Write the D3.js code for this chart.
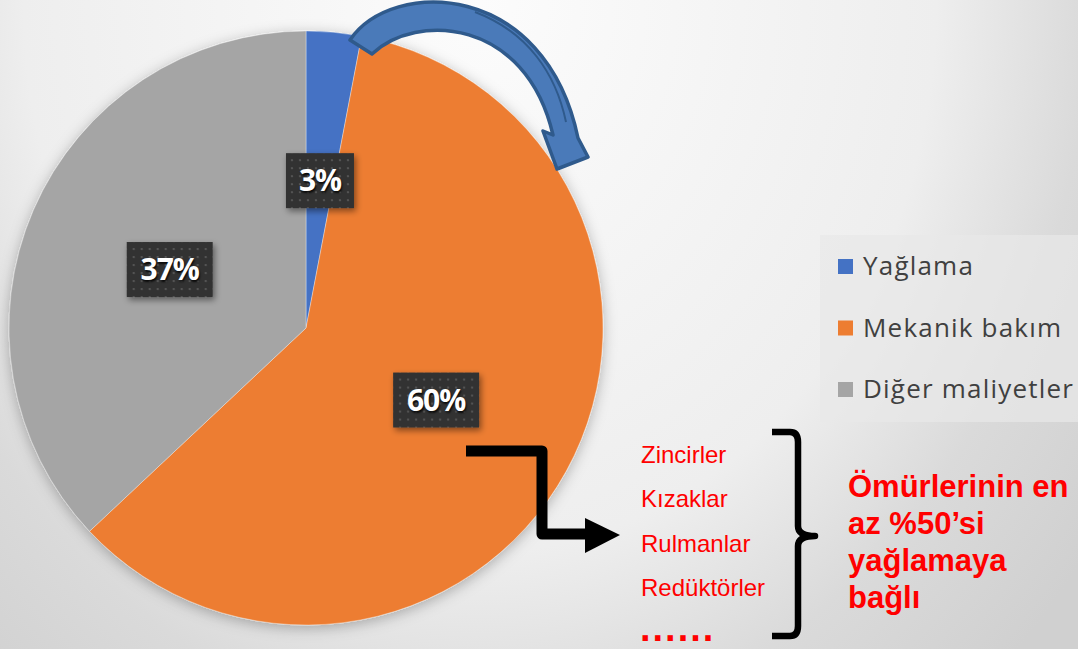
<!DOCTYPE html>
<html>
<head>
    <meta charset="utf-8">
    <title>Yağlama maliyeti</title>
    <script src="https://d3js.org/d3.v7.min.js"></script>
    <style>
        body { margin: 0; overflow: hidden; }
    </style>
</head>
<body>
    <svg width="1078" height="649" id="mainSvg"></svg>
    <script>
        // data
        const categories = ["Yağlama", "Mekanik bakım", "Diğer maliyetler"];
        const values = [3, 60, 37];
        const colors = ["#4472c4", "#ed7d31", "#a5a5a5"];
        const partList = ["Zincirler", "Kızaklar", "Rulmanlar", "Redüktörler"];
        const noteLines = ["Ömürlerinin en", "az %50’si", "yağlamaya", "bağlı"];

        const svg = d3.select("#mainSvg");
        const width = +svg.attr("width");
        const height = +svg.attr("height");
        const cx = 306, cy = 328, radius = 297;

        const defs = svg.append("defs");

        // background gradient
        const bg = defs.append("radialGradient")
            .attr("id", "bgGrad")
            .attr("gradientUnits", "userSpaceOnUse")
            .attr("cx", 480).attr("cy", 0).attr("r", 800)
            .attr("gradientTransform", "translate(480,0) scale(0.95,1.15) translate(-480,0)");
        [["0", "#fcfcfc"], ["0.6", "#eeeeee"], ["0.8", "#dadada"], ["1", "#d0d0d0"]]
            .forEach(s => bg.append("stop").attr("offset", s[0]).attr("stop-color", s[1]));
        svg.append("rect").attr("width", width).attr("height", height).attr("fill", "url(#bgGrad)");

        // shadows
        const pieShadow = defs.append("filter").attr("id", "pieShadow")
            .attr("x", "-20%").attr("y", "-20%").attr("width", "140%").attr("height", "140%");
        pieShadow.append("feDropShadow")
            .attr("dx", 0).attr("dy", 3).attr("stdDeviation", 7)
            .attr("flood-color", "#000").attr("flood-opacity", 0.28);

        const boxShadow = defs.append("filter").attr("id", "boxShadow")
            .attr("x", "-30%").attr("y", "-30%").attr("width", "160%").attr("height", "160%");
        boxShadow.append("feDropShadow")
            .attr("dx", 2).attr("dy", 3).attr("stdDeviation", 3)
            .attr("flood-color", "#000").attr("flood-opacity", 0.45);

        // dotted pattern for the data label boxes
        const dots = defs.append("pattern").attr("id", "dots")
            .attr("patternUnits", "userSpaceOnUse").attr("width", 8).attr("height", 8);
        dots.append("rect").attr("width", 8).attr("height", 8).attr("fill", "#333333");
        dots.append("circle").attr("cx", 4).attr("cy", 4).attr("r", 1.1).attr("fill", "#5a5a5a");

        // pie
        const pie = d3.pie().sort(null).value(d => d);
        const arcs = pie(values);
        const arc = d3.arc().innerRadius(0).outerRadius(radius);
        const labelArc = d3.arc().innerRadius(0).outerRadius(radius);

        const g = svg.append("g").attr("transform", `translate(${cx}, ${cy})`);

        g.append("g")
            .attr("filter", "url(#pieShadow)")
            .selectAll("path")
            .data(arcs)
            .join("path")
            .attr("d", arc)
            .attr("fill", (d, i) => colors[i])
            .attr("stroke", "#ffffff")
            .attr("stroke-opacity", 0.35)
            .attr("stroke-width", 1);

        const total = d3.sum(values);
        const labels = g.selectAll("g.lbl")
            .data(arcs)
            .join("g")
            .attr("class", "lbl")
            .attr("transform", d => `translate(${labelArc.centroid(d)})`);

        labels.each(function(d) {
            const sel = d3.select(this);
            const txt = Math.round(d.value / total * 100) + "%";
            const w = txt.length === 2 ? 68 : 86;
            sel.append("rect")
                .attr("x", -w / 2).attr("y", -27)
                .attr("width", w).attr("height", 55)
                .attr("fill", "url(#dots)")
                .attr("filter", "url(#boxShadow)");
            sel.append("text")
                .attr("text-anchor", "middle")
                .attr("y", 11)
                .attr("font-family", "'Open Sans', sans-serif")
                .attr("font-weight", "bold")
                .attr("font-size", 30)
                .attr("letter-spacing", -1)
                .attr("fill", "#ffffff")
                .style("text-shadow", "1px 2px 2px rgba(0,0,0,0.8)")
                .text(txt);
        });

        // curved blue arrow
        svg.append("path")
            .attr("d", "M350,40 C392,-22 545,-20 578,138 L588,157 L557,169 L543,131 L553,135 C526,18 416,12 372,54 Z")
            .attr("fill", "#4a7ab9")
            .attr("stroke", "#2f5a8c")
            .attr("stroke-width", 3.5)
            .attr("stroke-linejoin", "round");
        svg.append("path")
            .attr("d", "M475,12 C528,32 556,74 566,122")
            .attr("fill", "none")
            .attr("stroke", "#2f5a8c")
            .attr("stroke-width", 2);

        // legend
        const legend = svg.append("g");
        legend.append("rect")
            .attr("x", 820).attr("y", 235).attr("width", 270).attr("height", 187)
            .attr("fill", "#e8e8e8").attr("fill-opacity", 0.7);
        const ly = d3.scalePoint().domain(categories).range([275, 398]);
        const items = legend.selectAll("g.item")
            .data(categories)
            .join("g")
            .attr("class", "item")
            .attr("transform", d => `translate(0, ${ly(d)})`);
        items.append("rect")
            .attr("x", 838).attr("y", -16)
            .attr("width", 15).attr("height", 15)
            .attr("fill", (d, i) => colors[i]);
        items.append("text")
            .attr("x", 863)
            .attr("font-family", "'Open Sans', sans-serif")
            .attr("font-size", 26)
            .attr("letter-spacing", 1.2)
            .attr("fill", "#404040")
            .text(d => d);

        // black elbow arrow
        svg.append("path")
            .attr("d", "M466,451 L542,451 L542,534 L590,534")
            .attr("fill", "none")
            .attr("stroke", "#000")
            .attr("stroke-width", 11)
            .attr("stroke-linejoin", "round");
        svg.append("path")
            .attr("d", "M585,518 L620,535 L585,553 Z")
            .attr("fill", "#000");

        // red part list
        const py = d3.scalePoint().domain(partList).range([463, 596]);
        svg.selectAll("text.part")
            .data(partList)
            .join("text")
            .attr("class", "part")
            .attr("x", 641)
            .attr("y", d => py(d))
            .attr("font-family", "'Liberation Sans', Arial, sans-serif")
            .attr("font-size", 24)
            .attr("fill", "#ff0000")
            .text(d => d);
        svg.append("text")
            .attr("x", 640).attr("y", 641)
            .attr("font-family", "'Liberation Sans', Arial, sans-serif")
            .attr("font-size", 38)
            .attr("font-weight", "bold")
            .attr("letter-spacing", 2)
            .attr("fill", "#ff0000")
            .text("......");

        // brace
        svg.append("path")
            .attr("d", "M772,432 L790,432 Q798,432 798,442 L798,526 Q798,536 815,536 Q798,536 798,546 L798,626 Q798,636 790,636 L772,636")
            .attr("fill", "none")
            .attr("stroke", "#000")
            .attr("stroke-width", 6.5)
            .attr("stroke-linejoin", "round");

        // red note
        const ny = d3.scalePoint().domain(noteLines).range([497, 608]);
        svg.selectAll("text.note")
            .data(noteLines)
            .join("text")
            .attr("class", "note")
            .attr("x", 848)
            .attr("y", d => ny(d))
            .attr("font-family", "'Liberation Sans', Arial, sans-serif")
            .attr("font-size", 31)
            .attr("font-weight", "bold")
            .attr("fill", "#ff0000")
            .text(d => d);
    </script>
</body>
</html>
